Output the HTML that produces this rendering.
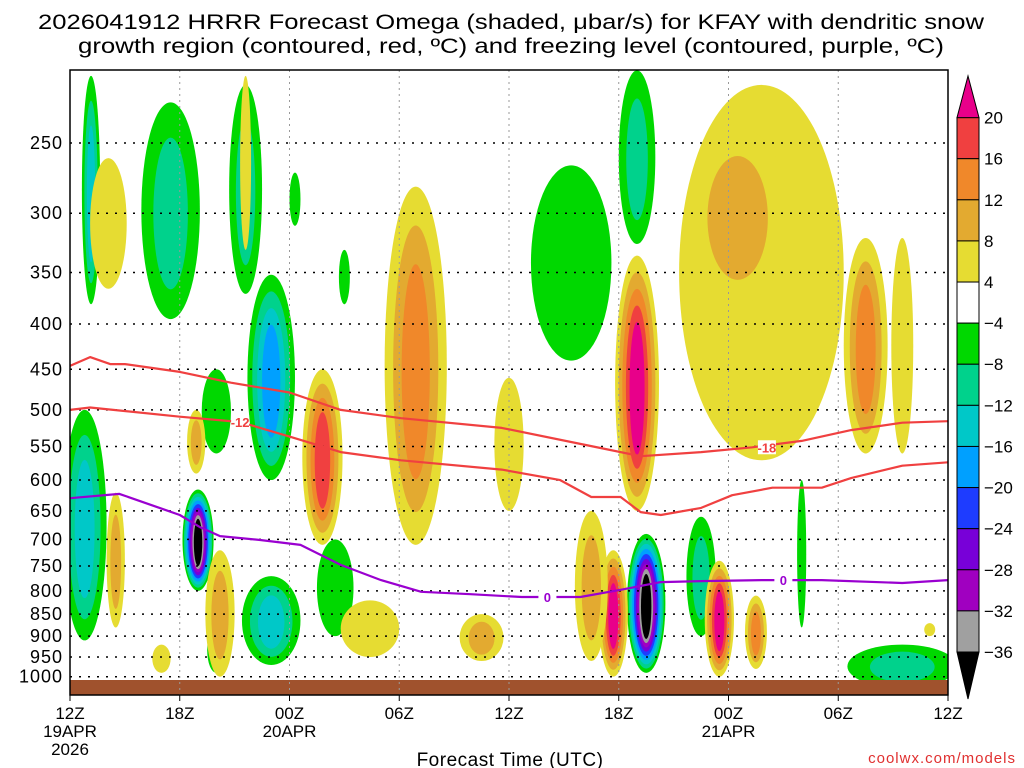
<!DOCTYPE html>
<html><head><meta charset="utf-8"><style>
body{margin:0;background:#fff;width:1024px;height:768px;overflow:hidden}
svg{display:block;font-family:"Liberation Sans","DejaVu Sans",sans-serif}
</style></head><body>
<svg id="c" width="1024" height="768">
<text x="38" y="29" textLength="946" lengthAdjust="spacingAndGlyphs" font-size="21">2026041912 HRRR Forecast Omega (shaded, μbar/s) for KFAY with dendritic snow</text>
<text x="78" y="53" textLength="866" lengthAdjust="spacingAndGlyphs" font-size="21">growth region (contoured, red, ºC) and freezing level (contoured, purple, ºC)</text>
<g id="field"></g>
<g id="grid"></g>
<g id="lines"></g>
<g id="axes"></g>
<g id="cbar"></g>
<text x="510" y="766" text-anchor="middle" font-size="19" letter-spacing="0.5">Forecast Time (UTC)</text>
<text x="1016" y="763" text-anchor="end" font-size="15" fill="#e03030" letter-spacing="1">coolwx.com/models</text>
</svg>
<script>
// ---- data ----
const pressureTicks=[250,300,350,400,450,500,550,600,650,700,750,800,850,900,950,1000];
const hourTicks=[0,6,12,18,24,30,36,42,48];
const hourTickLabels=["12Z","18Z","00Z","06Z","12Z","18Z","00Z","06Z","12Z"];
const cbarLevels=[20,16,12,8,4,-4,-8,-12,-16,-20,-24,-28,-32,-36];
const posColors=["#e6dc32","#e3aa30","#f0882a","#f04040","#e8008a"];
const negColors=["#00d800","#00d28c","#00c8c8","#00a0ff","#1e3cff","#7800d8","#a000c0","#a0a0a0","#000000"];
// omega cells: hour center, half-width (h), top/bottom pressure, peak value
const blobHour=[1.15,5.5,9.6,11,0.8,7,11,14.5,27.4,31,31.5,34.5,45.5,8,15,12.3,40,8, 31,13.8,18.9,37.8,43.5,29.7,35.5,37.5,24,2.1,2.5,6.9,8.2,16.4,22.5,28.5,45.5,47,5,9.6,36.5];
const blobHalfWidth=[0.5,1.6,0.9,1.3,1.2,0.85,1.6,1.0,2.2,1.0,1.05,0.8,3,0.8,0.3,0.3,0.25,0.5, 1.2,1.1,1.7,4.5,1.2,0.8,0.8,0.6,0.8,1,0.5,0.5,0.8,1.6,1.2,0.9,0.6,0.3,0.5,0.3,2.8];
const blobPTop=[210,225,215,352,500,615,770,700,265,207,690,660,920,450,330,270,600,880, 335,450,280,215,320,720,740,810,460,260,620,500,720,820,850,650,320,870,920,210,240];
const blobPBot=[380,395,370,600,910,800,970,900,440,325,990,900,1030,560,380,310,880,990, 650,710,710,570,560,1000,1000,980,650,365,880,590,1000,950,960,960,560,900,990,330,380];
const blobPeak=[-16,-12,-12,-20,-16,-40,-16,-8,-8,-12,-40,-12,-12,-8,-8,-8,-8,-12, 24,20,16,8,16,24,24,16,8,8,12,12,12,8,12,12,8,4,4,4,12];
// contour lines
const dgzUpperHour=[0,1.1,2.2,3,6,8.8,12,14.8,18.1,23.6,29,31.2,34.5,37.3,40,42.7,45.5,48];
const dgzUpperP=[446,436,444,444,453,466,478,500,511,524,552,564,558,551,542,527,517,515];
const dgzLowerHour=[0,1.1,6,9.3,12,14.8,18.1,23.6,26.8,28.5,30.1,31.2,32.3,34.5,36.2,38.4,41.1,42.7,45.5,48];
const dgzLowerP=[500,497,509,516,536,558,570,584,600,627,627,652,657,645,624,612,612,597,578,573];
const frzHour=[0,2.7,4.9,6,7.1,8.2,10.4,12.6,14.8,17,19.2,21.9,24.7,27.9,30.1,32.3,34.5,37.8,41.1,45.5,48];
const frzP=[629,622,645,657,678,694,701,710,748,778,802,807,813,813,798,782,780,778,778,784,778];

// ---- axes ----
const L=70,R=948,T=70,B=695;
const X=h=>L+h*(R-L)/48;
const Y=p=>143+385*Math.log(p/250);
const NS="http://www.w3.org/2000/svg";
function mk(tag,attrs,parent){const e=document.createElementNS(NS,tag);for(const k in attrs)e.setAttribute(k,attrs[k]);parent.appendChild(e);return e;}
const field=document.getElementById('field'),grid=document.getElementById('grid'),lines=document.getElementById('lines'),axes=document.getElementById('axes'),cbar=document.getElementById('cbar');
const clip=mk('clipPath',{id:'pc'},mk('defs',{},document.getElementById('c')));
mk('rect',{x:L,y:T,width:R-L,height:B-T},clip);
field.setAttribute('clip-path','url(#pc)');
// blobs
blobHour.forEach((h,i)=>{
  const pk=blobPeak[i];
  const cols=pk>0?posColors:negColors;
  const n=Math.max(1,Math.min(cols.length,Math.ceil((Math.abs(pk)-4)/4)));
  const cx=X(h),y1=Y(blobPTop[i]),y2=Y(blobPBot[i]);
  const cy=(y1+y2)/2,ry=(y2-y1)/2,rx=blobHalfWidth[i]*(R-L)/48;
  for(let k=0;k<n;k++){
    const s=1-0.82*k/n;
    const e=mk('ellipse',{cx:cx,cy:cy+ry*0.05*k/n,rx:rx*s,ry:ry*(1-0.6*k/n),fill:cols[k]},field);
    
    
  }
});
// ground
const g=mk('rect',{x:L,y:680,width:R-L,height:B-680,fill:'#a0522d'},field);


// grid
pressureTicks.forEach(p=>{
  const l=mk('line',{x1:L,x2:R,y1:Y(p),y2:Y(p),stroke:'#000','stroke-width':1.5,'stroke-dasharray':'2 7'},grid);
  
  
  const t=mk('text',{x:63,y:Y(p)+6,'text-anchor':'end','font-size':18,'letter-spacing':1},axes);t.textContent=p;
  
  
});
hourTicks.forEach((h,i)=>{
  if(i>0&&i<8){const l=mk('line',{x1:X(h),x2:X(h),y1:T,y2:B,stroke:'#999','stroke-width':1,'stroke-dasharray':'2 4'},grid);
  
  }
  mk('line',{x1:X(h),x2:X(h),y1:B,y2:B+6,stroke:'#000'},axes);
  const t=mk('text',{x:X(h),y:719,'text-anchor':'middle','font-size':17},axes);t.textContent=hourTickLabels[i];
  
  
});
[[X(0),"19APR"],[X(0),"2026",18],[X(12),"20APR"],[X(36),"21APR"]].forEach(a=>{
  const t=mk('text',{x:a[0],y:a[2]?755:737,'text-anchor':'middle','font-size':17},axes);t.textContent=a[1];
  
  
});
// lines
function path(hs,ps,col,name){
  const d=hs.map((h,i)=>(i?'L':'M')+X(h).toFixed(1)+','+Y(ps[i]).toFixed(1)).join('');
  const e=mk('path',{d:d,fill:'none',stroke:col,'stroke-width':2.2,'stroke-linejoin':'round'},lines);
  
  
}
path(dgzUpperHour,dgzUpperP,'#f04040','dgz-minus18-contour');
path(dgzLowerHour,dgzLowerP,'#f04040','dgz-minus12-contour');
path(frzHour,frzP,'#9a00d0','freezing-level-contour');
[[9.3,516,'-12','#f04040'],[38.1,551,'-18','#f04040'],[26.1,813,'0','#9a00d0'],[39,778,'0','#9a00d0']].forEach(a=>{
  mk('rect',{x:X(a[0])-9,y:Y(a[1])-7,width:18,height:14,fill:'#fff'},lines);
  const t=mk('text',{x:X(a[0]),y:Y(a[1])+5,'text-anchor':'middle','font-size':13,'font-weight':'bold',fill:a[3]},lines);t.textContent=a[2];
  
  
});
mk('rect',{x:L,y:T,width:R-L,height:B-T,fill:'none',stroke:'#000','stroke-width':1.5},axes);
// colorbar
const cbTop=117.6,cbStep=(652-117.6)/13,cx0=957,cw=22;
const cbColors=["#f04040","#f0882a","#e3aa30","#e6dc32","#ffffff","#00d800","#00d28c","#00c8c8","#00a0ff","#1e3cff","#7800d8","#a000c0","#a0a0a0"];
cbColors.forEach((c,i)=>{const r=mk('rect',{x:cx0,y:cbTop+i*cbStep,width:cw,height:cbStep,fill:c,stroke:'#000','stroke-width':1},cbar);
  
  });
mk('polygon',{points:`${cx0},${cbTop} ${cx0+cw},${cbTop} ${cx0+cw/2},76`,fill:'#e8008a',stroke:'#000'},cbar);
mk('polygon',{points:`${cx0},652 ${cx0+cw},652 ${cx0+cw/2},699`,fill:'#000',stroke:'#000'},cbar);
cbarLevels.forEach((v,i)=>{const t=mk('text',{x:984,y:cbTop+i*cbStep+6,'font-size':17},cbar);t.textContent=v<0?'−'+(-v):v;
  
  });
</script>
</body></html>
